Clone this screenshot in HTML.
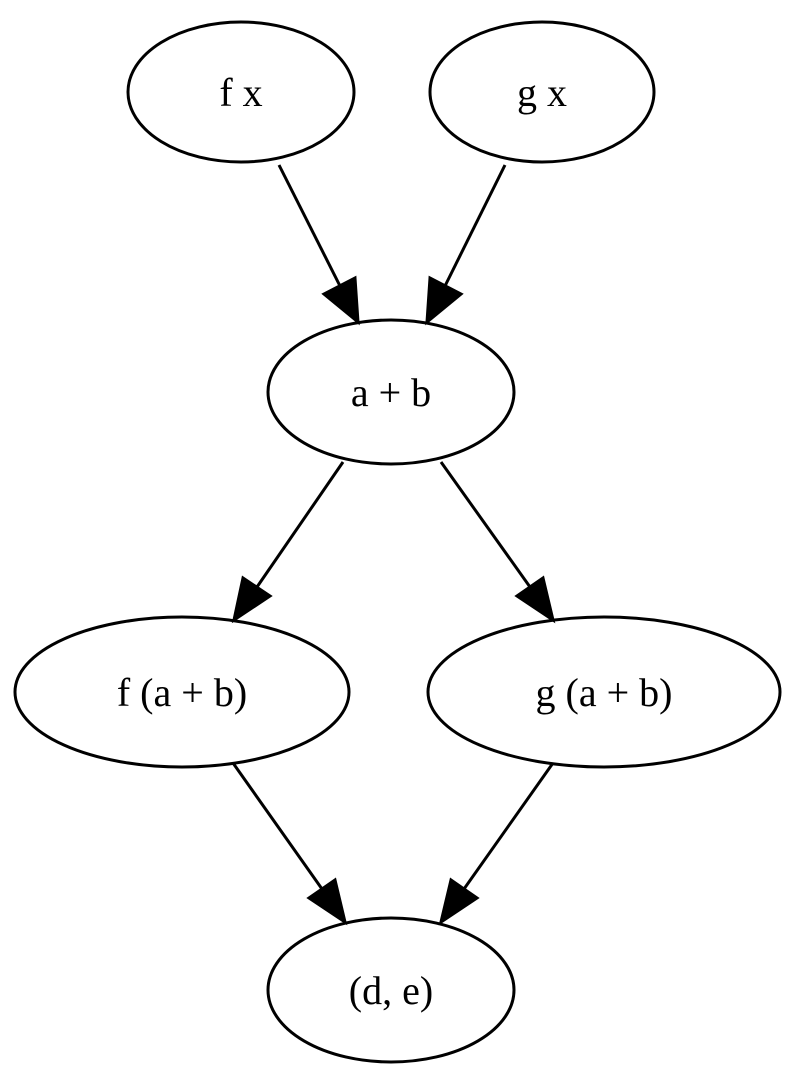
<!DOCTYPE html>
<html><head><style>body{margin:0;background:#fff}svg{display:block}</style></head><body>
<svg width="798" height="1083" viewBox="0 0 798 1083" xmlns="http://www.w3.org/2000/svg">
<g fill="none" stroke="#000" stroke-width="3">
<ellipse cx="241" cy="92" rx="113" ry="70"/>
<ellipse cx="542" cy="92" rx="112" ry="70"/>
<ellipse cx="391" cy="392" rx="123" ry="72"/>
<ellipse cx="182" cy="692" rx="167" ry="75"/>
<ellipse cx="604" cy="692" rx="176" ry="75"/>
<ellipse cx="391" cy="990" rx="123" ry="72"/>
<line x1="279" y1="165" x2="340" y2="286"/>
<line x1="505" y1="165" x2="445" y2="286"/>
<line x1="343" y1="462" x2="257" y2="587"/>
<line x1="441" y1="462" x2="530" y2="587"/>
<line x1="233" y1="763" x2="322" y2="889"/>
<line x1="553" y1="763" x2="464" y2="889"/>
</g>
<g fill="#000" stroke="#000" stroke-width="3">
<polygon points="358,322 324,294 355,278"/>
<polygon points="427,322 430,278 461,294"/>
<polygon points="234,620 243,578 270,596"/>
<polygon points="553,620 517,596 543,578"/>
<polygon points="345,922 309,898 335,880"/>
<polygon points="441,922 451,880 477,898"/>
</g>
<g font-family="Liberation Serif, serif" font-size="40" text-anchor="middle" fill="#000">
<text x="241" y="106">f x</text>
<text x="542" y="106">g x</text>
<text x="391" y="406">a + b</text>
<text x="182" y="706">f (a + b)</text>
<text x="604" y="706">g (a + b)</text>
<text x="391" y="1004">(d, e)</text>
</g>
</svg>
</body></html>
